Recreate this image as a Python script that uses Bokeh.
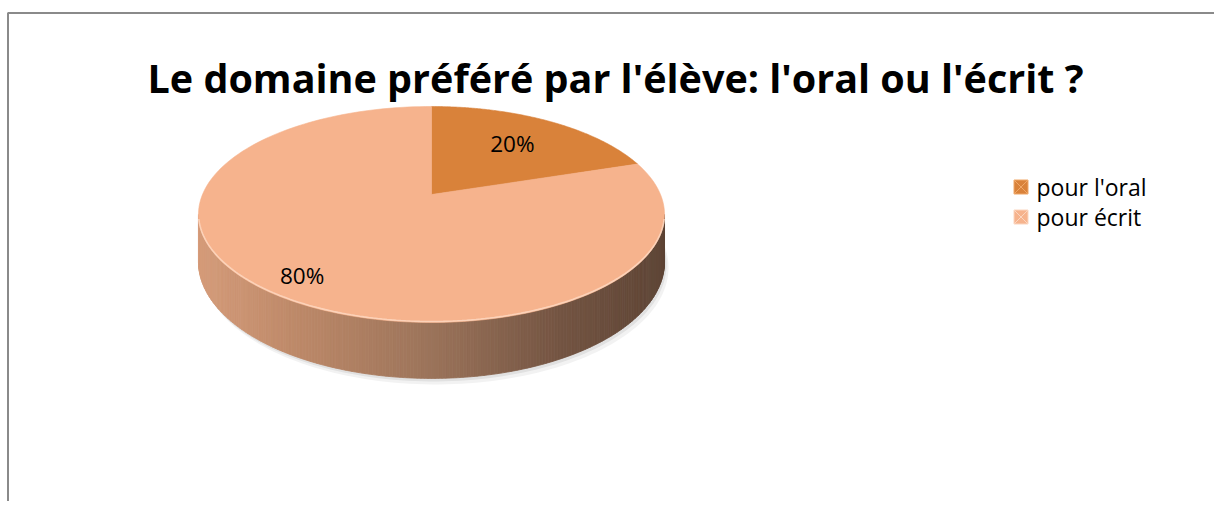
import numpy as np
from bokeh.plotting import figure
from bokeh.models import Range1d
from bokeh.embed import file_html
from bokeh.resources import INLINE
from bokeh.core.properties import value

# ---------------- data ----------------
title_text = "Le domaine préféré par l'élève: l'oral ou l'écrit ?"
categories = ["pour l'oral", "pour écrit"]
values = [20, 80]
slice_colors = ["#D9823A", "#F6B38D"]
legend_line_colors = ["#F0A868", "#FBD6C0"]

# ---------------- figure ----------------
W, H = 1214, 501
p = figure(width=W, height=H, x_range=Range1d(0, W), y_range=Range1d(H, 0),
           output_backend="svg", toolbar_location=None, min_border=0)
p.axis.visible = False
p.grid.visible = False
p.outline_line_color = None
p.background_fill_color = "white"
p.border_fill_color = "white"

# chart frame (top and left edges visible)
p.line(x=[7.5, 7.5, W], y=[H, 12.5, 12.5], line_color="#8A8A8A", line_width=2)

# title
p.text(x=[615], y=[77], text=[title_text], text_font=value("Open Sans"),
       text_font_style="bold", text_font_size="39.5px", text_align="center",
       text_baseline="alphabetic", text_color="#000000")

# ---------------- 3D pie geometry ----------------
CX, CY = 431.0, 194.0      # projected pie centre
A, B, K = 229.0, 104.3, 0.185
T = 45.6                   # thickness


def proj(theta, r=1.0):
    u = r * np.sin(theta)
    v = r * np.cos(theta)
    s = 1.0 / (1.0 + K * v)
    return CX + A * u * s, CY - B * v * s, s


def bottom(theta):
    x, y, s = proj(theta)
    return x, y + T * s


total = float(sum(values))
fr = np.array(values) / total
edges = np.concatenate([[0.0], np.cumsum(fr)]) * 2 * np.pi

# shadow
th_all = np.linspace(0, 2 * np.pi, 240)
bx, by = bottom(th_all)
for dx, dy, al in [(4, 6, 0.10), (2, 3, 0.15)]:
    p.patch(x=bx + dx, y=by + dy, fill_color="#808080", fill_alpha=al, line_color=None)

# side (visible front part) with horizontal gradient
th_a = np.arccos(-K)
th_b = 2 * np.pi - np.arccos(-K)
N = 220
ths = np.linspace(th_a, th_b, N + 1)
tx, ty, _ = proj(ths)
bx2, by2 = bottom(ths)
xmin, xmax = tx.min(), tx.max()
stops_t = [0.0, 0.22, 0.5, 0.78, 1.0]
stops_c = [(213, 156, 122), (188, 136, 104), (155, 115, 90), (115, 84, 66), (94, 69, 54)]
xs, ys, cols = [], [], []
for i in range(N):
    xs.append([tx[i], tx[i + 1], bx2[i + 1], bx2[i]])
    ys.append([ty[i], ty[i + 1], by2[i + 1], by2[i]])
    t = ((tx[i] + tx[i + 1]) / 2 - xmin) / (xmax - xmin)
    c = [int(round(np.interp(t, stops_t, [sc[k] for sc in stops_c]))) for k in range(3)]
    cols.append("#%02x%02x%02x" % tuple(c))
p.patches(xs=xs, ys=ys, fill_color=cols, line_color=cols, line_width=0.8)

# top face slices
for i in range(len(values)):
    th = np.linspace(edges[i], edges[i + 1], 160)
    x, y, _ = proj(th)
    p.patch(x=np.concatenate([[CX], x]), y=np.concatenate([[CY], y]),
            fill_color=slice_colors[i], line_color=slice_colors[i], line_width=0.6)

# rim highlight on the front edge
thh = np.linspace(th_a + 0.05, th_b - 0.05, 160)
hx, hy, _ = proj(thh)
p.line(x=hx, y=hy - 1, line_color="#FFE0CC", line_width=1.6, line_alpha=0.7)

# data labels
label_r = [0.66, 0.84]
lx, ly, lt = [], [], []
for i, v in enumerate(values):
    mid = (edges[i] + edges[i + 1]) / 2
    x, y, _ = proj(mid, label_r[i])
    lx.append(x)
    ly.append(y)
    lt.append("%d%%" % round(100 * v / total))
p.text(x=lx, y=ly, text=lt, text_font=value("Open Sans"), text_font_size="22.5px",
       text_align="center", text_baseline="middle", text_color="#000000")

# legend
LX, LY, DY = 1020.5, 186.5, 30
leg_y = [LY + i * DY for i in range(len(categories))]
p.scatter(x=[LX] * len(categories), y=leg_y, marker="square_x", size=14,
          fill_color=slice_colors, line_color=legend_line_colors, line_width=1)
p.text(x=[1036] * len(categories), y=leg_y, text=categories,
       text_font=value("Open Sans"), text_font_size="23px", text_align="left",
       text_baseline="middle", text_color="#000000")

open("out.html", "w").write(file_html(p, INLINE))
